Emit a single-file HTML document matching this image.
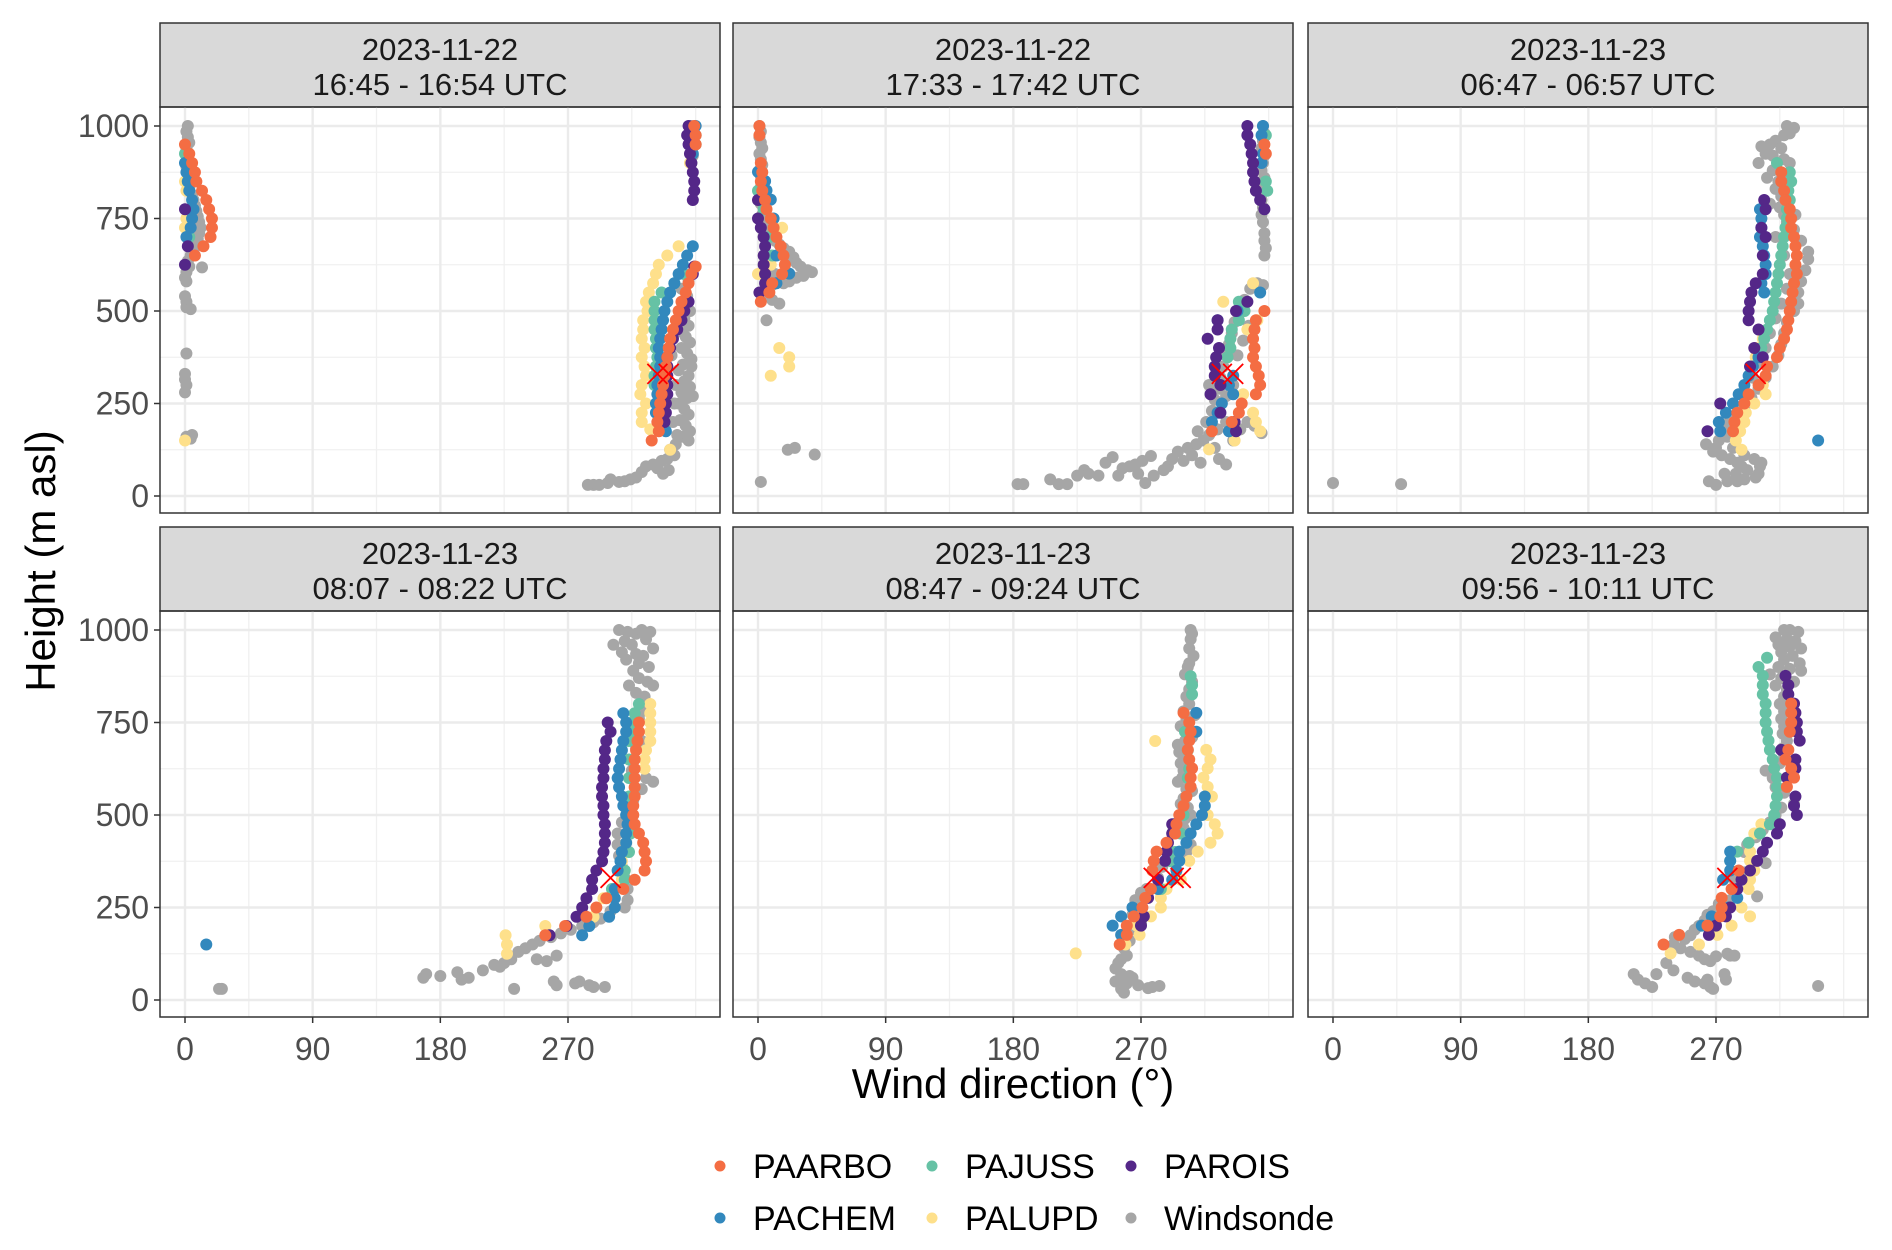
<!DOCTYPE html>
<html><head><meta charset="utf-8">
<style>
html,body{margin:0;padding:0;background:#fff;}
svg{display:block;font-family:"Liberation Sans",Arial,sans-serif;}
</style></head>
<body>
<svg id="chart" width="1892" height="1250" viewBox="0 0 1892 1250" xmlns="http://www.w3.org/2000/svg">
<rect x="0" y="0" width="1892" height="1250" fill="#fff"/>
</svg>
<script>
// ---- data ----
const panelDates = ["2023-11-22","2023-11-22","2023-11-23","2023-11-23","2023-11-23","2023-11-23"];
const panelTimes = ["16:45 - 16:54 UTC","17:33 - 17:42 UTC","06:47 - 06:57 UTC","08:07 - 08:22 UTC","08:47 - 09:24 UTC","09:56 - 10:11 UTC"];
const seriesNames = ["PAARBO","PACHEM","PAJUSS","PALUPD","PAROIS","Windsonde"];
const seriesColors = ["#f46d43","#3288bd","#66c2a5","#fee08b","#542788","#a6a6a6"];
const xTicks = [0,90,180,270];
const xTickLabels = ["0","90","180","270"];
const yTicks = [0,250,500,750,1000];
const yTickLabels = ["0","250","500","750","1000"];
// flat [direction, height, ...] per panel
const Windsonde = [
 [2,1000,1,985,2,970,3,955,1,940,2,920,3,905,1,890,3,875,2,860,4,845,3,830,5,815,6,800,7,785,8,770,9,755,10,740,11,725,10,710,9,695,8,680,6,665,4,650,2,635,12,618,3,620,1,605,0,590,1,580,0,540,1,525,1,510,4,505,1,385,0,330,0,315,1,300,0,280,1,160,5,165,4,155,
  357,1000,358,980,356,960,357,940,358,920,357,900,
  352,600,355,580,350,560,354,540,351,520,356,500,352,480,355,460,349,445,353,430,356,415,350,400,354,385,357,370,351,355,348,340,355,325,352,310,356,295,350,280,354,265,348,250,352,235,355,220,349,205,353,190,356,175,351,160,355,150,346,140,342,125,345,110,340,100,336,95,330,85,333,75,325,80,322,65,318,50,314,45,310,40,306,38,300,45,298,35,292,30,288,30,284,30,337,60,341,70,347,165,344,200,346,300,343,380,345,250,357,350,358,270],
 [1,1000,2,985,1,970,2,955,3,940,1,925,2,910,3,895,1,880,2,865,3,850,2,835,4,820,3,805,2,790,5,775,3,760,4,745,6,730,8,715,4,700,12,690,15,680,18,670,22,660,25,645,27,630,30,620,35,610,38,605,32,595,27,590,22,580,18,575,10,570,12,600,6,560,3,545,10,530,15,520,6,475,21,125,26,130,40,112,2,38,
  356,1000,357,980,356,960,355,940,357,920,356,900,355,880,357,860,356,840,354,820,355,800,356,780,355,760,356,740,357,710,357,690,358,670,357,650,
  183,32,187,32,206,45,212,32,218,32,225,55,230,70,233,60,240,55,245,90,250,105,254,55,257,75,262,80,266,85,268,60,271,95,273,35,277,108,279,55,286,70,289,80,292,100,296,120,300,95,303,130,306,110,309,140,312,90,314,150,318,165,316,200,320,230,322,260,325,290,326,320,328,350,330,380,332,410,334,440,336,470,339,500,343,530,347,560,352,575,356,570,322,130,325,100,330,85,335,150,340,180,345,200,350,190,355,170,330,270,335,300,338,380,342,420,346,460,330,200,318,300,324,180,310,175],
 [320,1000,325,995,318,975,312,960,308,950,302,945,305,925,310,920,318,910,300,900,310,880,320,870,306,860,314,850,312,830,316,810,308,790,315,780,318,760,320,740,325,720,330,690,335,660,335,640,333,610,330,580,328,550,328,520,325,500,320,470,318,440,316,410,314,380,310,350,305,320,300,290,295,265,290,240,285,210,282,185,278,160,270,130,274,110,280,100,285,90,288,80,292,70,300,60,298,50,285,40,278,40,265,40,270,30,297,100,301,80,0,35,48,32,263,140,278,170,322,980,316,940,322,900,326,760,312,700,318,650,322,600,320,560,316,520,312,480,308,440,305,400,300,360,296,320,290,280,286,240,280,210,276,190,272,150,268,120,282,130,290,110,276,60,284,60,290,45,302,90],
 [306,1000,312,995,318,990,322,1000,328,995,302,960,310,970,315,960,325,975,330,950,308,940,318,935,323,930,311,920,320,910,327,900,316,890,320,870,326,860,330,850,313,850,318,830,324,820,327,800,322,780,320,760,318,730,322,700,318,680,316,650,315,620,325,600,330,590,322,570,316,540,312,510,308,480,305,450,305,420,306,390,308,360,310,330,312,300,312,270,310,250,300,240,293,220,288,210,280,200,272,190,265,180,258,170,250,160,245,150,240,140,235,130,230,110,225,100,222,90,218,95,210,80,200,60,195,55,192,75,180,65,170,70,168,60,232,30,260,50,262,40,275,45,278,50,285,40,288,35,296,35,24,30,26,30,248,110,255,105,262,120],
 [305,1000,306,990,305,975,304,950,307,930,304,910,303,900,301,880,306,860,304,840,302,820,304,800,300,780,308,770,302,760,298,740,303,730,306,710,301,700,296,690,300,680,297,670,302,655,298,640,300,620,303,610,299,600,296,590,302,570,306,565,300,545,298,530,303,520,305,500,301,490,296,480,293,460,300,465,305,420,302,400,290,380,285,360,282,330,274,300,270,290,266,270,268,250,264,230,270,210,266,190,262,160,258,140,260,120,256,110,254,100,252,85,256,70,262,65,260,55,252,50,256,30,260,45,258,20,264,60,275,32,278,35,283,38,268,40],
 [318,1000,322,1000,328,995,312,980,320,975,326,970,314,960,322,955,330,950,316,940,324,930,318,920,329,910,314,900,322,895,330,890,308,880,316,870,325,860,312,850,320,840,318,820,315,800,318,780,316,760,318,740,317,720,320,700,317,680,318,660,315,640,305,620,310,600,312,575,318,560,325,530,316,520,312,500,308,480,303,460,298,440,292,420,290,400,305,370,290,345,282,330,283,300,299,280,280,270,272,260,268,240,264,230,262,215,258,200,255,190,252,175,248,165,244,175,241,170,240,150,245,140,252,130,258,120,262,110,266,105,270,118,278,125,280,120,240,80,235,100,228,70,212,70,215,55,220,45,225,35,250,60,255,50,262,45,266,35,268,30,264,55,277,55,276,70,283,120,342,38]
];
const PALUPD = [
 [0,850,1,825,1,750,0,725,0,150,357,925,356,900,355,975,348,675,340,650,334,625,332,600,330,575,327,550,325,525,326,500,323,475,323,450,322,425,324,400,322,375,324,350,325,325,322,300,321,275,325,250,322,225,322,200,328,180,342,125],
 [9,625,0,600,10,750,17,725,15,400,22,375,22,350,9,325,349,575,328,525,345,450,352,475,342,275,349,225,351,200,354,175,336,150,318,126],
 [303,425,298,400,298,375,295,350,303,300,305,275,297,250,291,225,290,200,287,175,284,150,288,125],
 [328,800,328,775,328,750,328,725,328,700,325,675,324,650,324,625,316,550,314,525,312,500,311,425,308,375,310,350,308,325,295,275,288,225,254,200,226,175,227,150,227,125],
 [280,700,316,676,319,650,317,626,314,601,317,576,320,550,317,500,322,475,324,450,319,425,310,401,304,376,298,325,288,300,284,276,284,250,277,226,267,201,269,176,259,150,224,126],
 [302,475,297,450,294,401,294,376,297,350,294,325,293,300,288,250,294,226,281,201,271,176,258,150,238,126]
];
const PAJUSS = [
 [0,925,2,850,5,775,3,700,360,975,360,950,352,600,345,575,336,550,331,525,331,500,331,475,331,450,332,425,332,400,333,375,332,350,331,325,331,300],
 [0,825,2,800,4,775,8,700,10,650,7,575,358,975,358,850,359,825,339,525,343,500,339,475,334,450,333,425,333,400,331,375],
 [313,900,322,875,323,850,321,825,322,800,320,775,320,750,319,725,318,700,317,675,316,650,315,625,314,600,313,575,312,550,311,525,310,500,308,475,306,450,304,425,302,400,300,375],
 [320,800,317,775,315,750,314,725,313,700,313,650,313,600,313,550,314,500,314,450,313,400,310,350,310,325,301,300],
 [305,875,306,851,306,826,301,725,303,675,304,625,303,600,302,550,300,500,298,450,294,400,291,375,284,300],
 [306,925,300,900,303,876,303,851,303,826,305,801,305,776,305,750,306,725,307,701,308,676,310,650,311,626,313,601,313,576,313,550,312,525,311,500,308,475,301,450,293,425,285,401,280,376]
];
const PACHEM = [
 [0,900,1,875,2,850,3,825,5,800,6,775,5,750,4,725,1,700,360,1000,359,975,359,950,358,925,358,675,354,650,351,625,348,600,345,575,342,550,340,525,338,500,337,475,336,450,335,425,334,400,335,375,335,350,334,325,333,300,333,275,332,250,332,225,334,200,339,175],
 [0,876,5,851,6,826,9,801,11,750,13,650,22,601,13,575,356,1000,355,975,356,925,355,900,354,550,338,500,324,475,335,325,332,300,335,275,327,250,324,225,320,200,332,175],
 [301,775,302,750,302,725,301,700,303,675,304,650,305,625,305,600,302,575,304,550,300,375,296,350,293,325,290,300,286,275,282,250,277,225,272,200,273,175,342,150],
 [309,775,311,750,311,725,309,700,308,675,307,650,306,625,305,600,306,575,308,550,309,525,311,500,312,475,311,450,311,425,308,400,307,375,305,350,303,300,303,275,303,250,299,225,285,200,280,175,15,150],
 [309,776,309,725,315,550,315,525,313,500,309,475,305,450,302,425,297,401,297,376,295,350,292,325,282,300,264,250,256,226,250,201,256,176],
 [280,401,280,376,280,350,275,325,285,276,279,250,267,226,260,201]
];
const PAROIS = [
 [0,775,2,675,0,625,355,1000,354,975,355,950,356,925,357,900,358,875,359,850,359,825,358,800,359,620,358,600,355,525,352,500,350,475,347,450,344,425,342,400,340,375,340,350,340,325,340,300,340,275,339,250,339,225,338,200],
 [0,800,0,750,2,725,4,700,5,675,4,650,4,625,5,600,5,575,1,550,345,1000,345,975,347,950,348,925,349,900,349,875,350,850,351,825,354,800,357,775,345,525,337,500,324,475,324,450,317,425,325,400,323,375,322,350,322,325,326,300,319,275,326,225,336,200,337,175],
 [304,800,305,775,302,725,305,700,303,650,303,600,298,575,295,550,294,525,293,500,293,475,300,450,297,400,303,375,294,350,273,250,264,175],
 [298,750,300,725,297,700,296,675,296,650,295,625,295,600,294,575,294,550,295,525,295,500,296,475,296,450,296,425,295,400,294,375,290,350,287,325,287,300,283,275,280,250,276,225,269,200,257,175],
 [292,475,292,450,289,425,288,401,287,376,282,325,275,276,272,226,270,201],
 [319,876,321,851,321,826,325,801,326,776,327,750,327,725,329,701,316,676,326,650,326,626,320,601,326,550,325,525,327,500,315,475,313,450,306,425,303,401,299,376,294,350,288,325,285,300,280,250,277,226,270,201,265,176]
];
const PAARBO = [
 [0,950,3,925,5,900,7,875,8,850,12,825,15,800,17,775,19,750,19,725,18,700,13,675,7,650,359,1000,360,975,360,950,360,620,357,600,355,575,353,550,350,525,348,500,346,475,344,450,342,425,341,400,340,375,339,350,338,325,337,300,336,275,335,250,334,225,333,200,334,175,329,150],
 [1,1000,1,975,2,900,3,875,2,850,3,825,5,800,6,775,9,750,11,725,13,700,16,675,18,650,19,625,17,600,10,575,8,550,2,525,357,950,358,925,357,500,351,475,350,450,349,425,350,400,349,375,351,350,353,325,354,300,351,275,341,250,339,225,334,200,320,175],
 [316,875,316,850,318,825,319,800,322,775,323,750,323,725,325,700,326,675,327,650,326,625,327,600,325,575,324,550,323,525,322,500,321,475,320,450,318,425,315,400,313,375,306,350,305,325,300,300,293,275,290,250,285,225,283,200,282,175],
 [320,750,320,725,319,700,318,675,317,650,317,625,317,600,317,575,317,550,316,525,316,500,317,475,320,450,323,425,324,400,325,375,324,350,317,325,309,300,297,275,290,250,283,225,268,200,254,175],
 [300,776,304,750,305,725,304,701,303,676,304,650,306,626,305,601,305,576,302,550,300,525,297,500,295,475,294,450,288,425,281,401,279,376,278,350,277,300,273,276,271,250,265,226,260,201,260,176,255,150],
 [323,801,323,776,323,750,322,725,321,676,319,650,323,626,325,601,320,576,286,350,281,300,274,276,274,250,273,226,264,201,244,176,233,150]
];
const markerX = [[333,330,341,330],[327,330,335,330],[298,330],[300,330],[279,330,293,330,298,330],[278,330]];
// draw order (bottom to top)
const drawOrder = ["Windsonde","PALUPD","PAJUSS","PACHEM","PAROIS","PAARBO"];
const seriesData = {PAARBO, PACHEM, PAJUSS, PALUPD, PAROIS, Windsonde};

// ---- layout ----
const NS = "http://www.w3.org/2000/svg";
const svg = document.getElementById("chart");
const colX = [160, 733, 1308];
const rowStripTop = [23, 527];
const rowPanelTop = [107, 611];
const PW = 560, PH = 406;
function mk(tag, attrs, parent){const e=document.createElementNS(NS,tag);for(const k in attrs)e.setAttribute(k,attrs[k]);(parent||svg).appendChild(e);return e;}
function xScale(left, d){return left + 25 + d * 1.4185;}
function yScale(top, h){return top + 19 + (1000 - h) * 0.37;}

for (let p = 0; p < 6; p++) {
  const col = p % 3, row = Math.floor(p / 3);
  const L = colX[col], T = rowPanelTop[row], ST = rowStripTop[row];
  const g = mk("g", {});
  
  
  const strip = mk("rect", {x:L, y:ST, width:PW, height:T-ST, fill:"#d9d9d9", stroke:"#333", "stroke-width":1.5}, g);
  
  
  const t1 = mk("text", {x:L+PW/2, y:ST+37, "text-anchor":"middle", "font-size":31, fill:"#1a1a1a"}, g);
  t1.textContent = panelDates[p];
  
  
  const t2 = mk("text", {x:L+PW/2, y:ST+72, "text-anchor":"middle", "font-size":31, fill:"#1a1a1a"}, g);
  t2.textContent = panelTimes[p];
  
  
  const grid = mk("g", {}, g);
  
  
  [45,135,225,315,360].forEach(d => mk("line", {x1:xScale(L,d), x2:xScale(L,d), y1:T, y2:T+PH, stroke:"#f0f0f0", "stroke-width":1.3}, grid));
  [125,375,625,875].forEach(h => mk("line", {x1:L, x2:L+PW, y1:yScale(T,h), y2:yScale(T,h), stroke:"#f0f0f0", "stroke-width":1.3}, grid));
  xTicks.forEach(d => mk("line", {x1:xScale(L,d), x2:xScale(L,d), y1:T, y2:T+PH, stroke:"#ebebeb", "stroke-width":2.4}, grid));
  yTicks.forEach(h => mk("line", {x1:L, x2:L+PW, y1:yScale(T,h), y2:yScale(T,h), stroke:"#ebebeb", "stroke-width":2.4}, grid));
  drawOrder.forEach(name => {
    const si = seriesNames.indexOf(name);
    const arr = seriesData[name][p];
    const sg = mk("g", {fill: seriesColors[si]}, g);
    
    
    for (let i = 0; i < arr.length; i += 2) {
      const c = mk("circle", {cx:xScale(L,arr[i]), cy:yScale(T,arr[i+1]), r:6}, sg);
      
      
    }
  });
  const mx = markerX[p];
  for (let i = 0; i < mx.length; i += 2) {
    const cx = xScale(L, mx[i]), cy = yScale(T, mx[i+1]), s = 10;
    const m = mk("path", {d:`M${cx-s},${cy-s}L${cx+s},${cy+s}M${cx-s},${cy+s}L${cx+s},${cy-s}`, stroke:"#ff0000", "stroke-width":1.8, fill:"none"}, g);
    
    
  }
  const b = mk("rect", {x:L, y:T, width:PW, height:PH, fill:"none", stroke:"#333", "stroke-width":1.5}, g);
  
  
  if (col === 0) {
    yTicks.forEach((h, i) => {
      const y = yScale(T, h);
      mk("line", {x1:L-6, x2:L, y1:y, y2:y, stroke:"#333", "stroke-width":1.5}, g);
      const tl = mk("text", {x:L-11, y:y+11, "text-anchor":"end", "font-size":32, fill:"#4d4d4d"}, g);
      tl.textContent = yTickLabels[i];
      
      
    });
  }
  if (row === 1) {
    xTicks.forEach((d, i) => {
      const x = xScale(L, d);
      mk("line", {x1:x, x2:x, y1:T+PH, y2:T+PH+6, stroke:"#333", "stroke-width":1.5}, g);
      const tl = mk("text", {x:x, y:T+PH+43, "text-anchor":"middle", "font-size":32, fill:"#4d4d4d"}, g);
      tl.textContent = xTickLabels[i];
      
      
    });
  }
}
const yt = mk("text", {x:0, y:0, transform:"translate(55,561) rotate(-90)", "text-anchor":"middle", "font-size":42, fill:"#000"});
yt.textContent = "Height (m asl)";


const xt = mk("text", {x:1013, y:1098, "text-anchor":"middle", "font-size":42, fill:"#000"});
xt.textContent = "Wind direction (°)";


const legendPos = [[720,1166],[720,1218],[932,1166],[932,1218],[1131,1166],[1131,1218]];
const lg = mk("g", {});


seriesNames.forEach((n, i) => {
  const [x, y] = legendPos[i];
  const e = mk("g", {}, lg);
  
  
  mk("circle", {cx:x, cy:y, r:5.5, fill:seriesColors[i]}, e);
  const t = mk("text", {x:x+33, y:y+12, "font-size":34, fill:"#000"}, e);
  t.textContent = n;
});
</script>
</body></html>
